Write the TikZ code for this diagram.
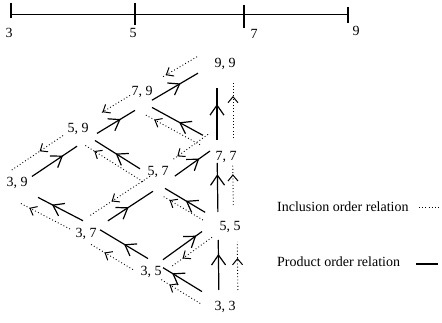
\documentclass[tikz,border=0pt]{standalone}
\usepackage{fontspec}
\setmainfont{Liberation Serif}
\usetikzlibrary{calc,decorations.markings}

\tikzset{
  lab/.style={font=\fontsize{14}{16}\selectfont, inner sep=0pt},
  dots/.style={line width=0.9pt, dash pattern=on 0.9pt off 2.3pt},
  prod/.style={line width=1.2pt, postaction={decorate},
    decoration={markings, mark=at position #1 with {\draw[solid,line width=1.2pt] (-10pt,7pt) -- (0pt,0pt) -- (-10pt,-7pt);}}},
  incl/.style={dots, postaction={decorate},
    decoration={markings, mark=at position #1 with {\draw[solid,line width=1pt] (-6pt,5pt) -- (0pt,0pt) -- (-6pt,-5pt);}}},
}
% [shift] from, to, gap at start, gap at end, arrow position
\newcommand{\prodrel}[6][0,0]{%
  \draw[prod=#6] ($(#2)!#4!(#3)+(#1)$) -- ($(#3)!#5!(#2)+(#1)$);}
% shift, from, to, gap at start, gap at end, arrow position
\newcommand{\inclrel}[6]{%
  \draw[incl=#6] ($(#2)!#4!(#3)+(#1)$) -- ($(#3)!#5!(#2)+(#1)$);}

\begin{document}
\begin{tikzpicture}[x=1pt,y=-1pt]
  \useasboundingbox (0,0) rectangle (442,323);
  % --- scale ---
  \draw[line width=1.2pt] (11,14.5) -- (348,14.5);
  \foreach \val/\x/\a/\b/\lx/\ly in {3/11/3/18/9/33, 5/135/3/25/133/33,
                                    7/244/5/28/254/34, 9/348/7/23/356/31} {
    \draw[line width=1.2pt] (\x,\a) -- (\x,\b);
    \node[lab] (t\val) at (\lx,\ly) {\val};
  }
  % --- lattice points ---
  \coordinate (v33) at (219,302);
  \coordinate (v35) at (157,264);
  \coordinate (v55) at (218,220);
  \coordinate (v37) at (97,228);
  \coordinate (v57) at (161,186);
  \coordinate (v77) at (217,146);
  \coordinate (v39) at (17,186.5);
  \coordinate (v59) at (87,139.5);
  \coordinate (v79) at (143,105.5);
  \coordinate (v99) at (217,62);
  % --- labels ---
  \node[lab] (l99) at (225,64)  {9, 9};
  \node[lab] (l79) at (142,92)  {7, 9};
  \node[lab] (l59) at (78,129)  {5, 9};
  \node[lab] (l39) at (17,183)  {3, 9};
  \node[lab] (l77) at (226,157) {7, 7};
  \node[lab] (l57) at (158,172) {5, 7};
  \node[lab] (l37) at (86,234)  {3, 7};
  \node[lab] (l55) at (230,227) {5, 5};
  \node[lab] (l35) at (151,272) {3, 5};
  \node[lab] (l33) at (225,307) {3, 3};
  % --- product order ---
  \prodrel{v33}{v55}{12pt}{20pt}{0.7}
  \prodrel{v55}{v77}{8pt}{17pt}{0.75}
  \prodrel{v77}{v99}{6pt}{26pt}{0.67}
  \prodrel{v33}{v35}{20pt}{7pt}{0.74}
  \prodrel{v35}{v55}{7.4pt}{19.7pt}{0.83}
  \prodrel{v35}{v37}{10.5pt}{3.5pt}{0.48}
  \prodrel{v55}{v57}{15pt}{4.7pt}{0.46}
  \prodrel{v37}{v57}{13pt}{9.6pt}{0.44}
  \prodrel{v57}{v77}{17pt}{8.6pt}{0.67}
  \prodrel{v37}{v39}{15.8pt}{23.7pt}{0.67}
  \prodrel[0,-4]{v57}{v59}{24.8pt}{9.4pt}{0.52}
  \prodrel[0,-3]{v77}{v79}{16pt}{10.3pt}{0.45}
  \prodrel{v39}{v59}{18pt}{12pt}{0.67}
  \prodrel{v59}{v79}{11.7pt}{9.4pt}{0.6}
  \prodrel{v79}{v99}{10.4pt}{22pt}{0.6}
  % --- inclusion order ---
  \inclrel{19,0}{v33}{v55}{12pt}{22pt}{0.65}
  \inclrel{15.5,0}{v55}{v77}{15pt}{19pt}{0.75}
  \inclrel{16,0}{v77}{v99}{8pt}{21pt}{0.75}
  \inclrel{0,13}{v33}{v35}{22pt}{3.5pt}{0.75}
  \inclrel{0,13}{v55}{v35}{7.4pt}{18.5pt}{0.72}
  \inclrel{0,20}{v35}{v37}{28pt}{-8pt}{0.65}
  \inclrel{0,15}{v37}{v39}{30.4pt}{3.4pt}{0.8}
  \inclrel{0,-17}{v57}{v37}{13.2pt}{-8.4pt}{0.63}
  \inclrel{0,9}{v55}{v57}{17.5pt}{1.2pt}{0.8}
  \inclrel{0,-18}{v77}{v57}{11pt}{14.7pt}{0.86}
  \inclrel{0,-20}{v59}{v39}{28.9pt}{-8.4pt}{0.43}
  \inclrel{0,7}{v57}{v59}{21.3pt}{-2.4pt}{0.83}
  \inclrel{0,-18}{v79}{v59}{15.2pt}{15.2pt}{0.9}
  \inclrel{0,8}{v77}{v79}{19.4pt}{2.3pt}{0.82}
  \inclrel{0,-17}{v99}{v79}{23.2pt}{23.2pt}{0.9}
  % --- legend ---
  \node[lab,anchor=west] (ilab) at (277,207) {Inclusion order relation};
  \coordinate (ia) at (419,207);
  \coordinate (ib) at (440,207);
  \draw[dots] (ia) -- (ib);
  \node[lab,anchor=west] (plab) at (277,262) {Product order relation};
  \coordinate (pa) at (416,264);
  \coordinate (pb) at (438,264);
  \draw[line width=1.2pt] (pa) -- (pb);
\end{tikzpicture}
\end{document}
